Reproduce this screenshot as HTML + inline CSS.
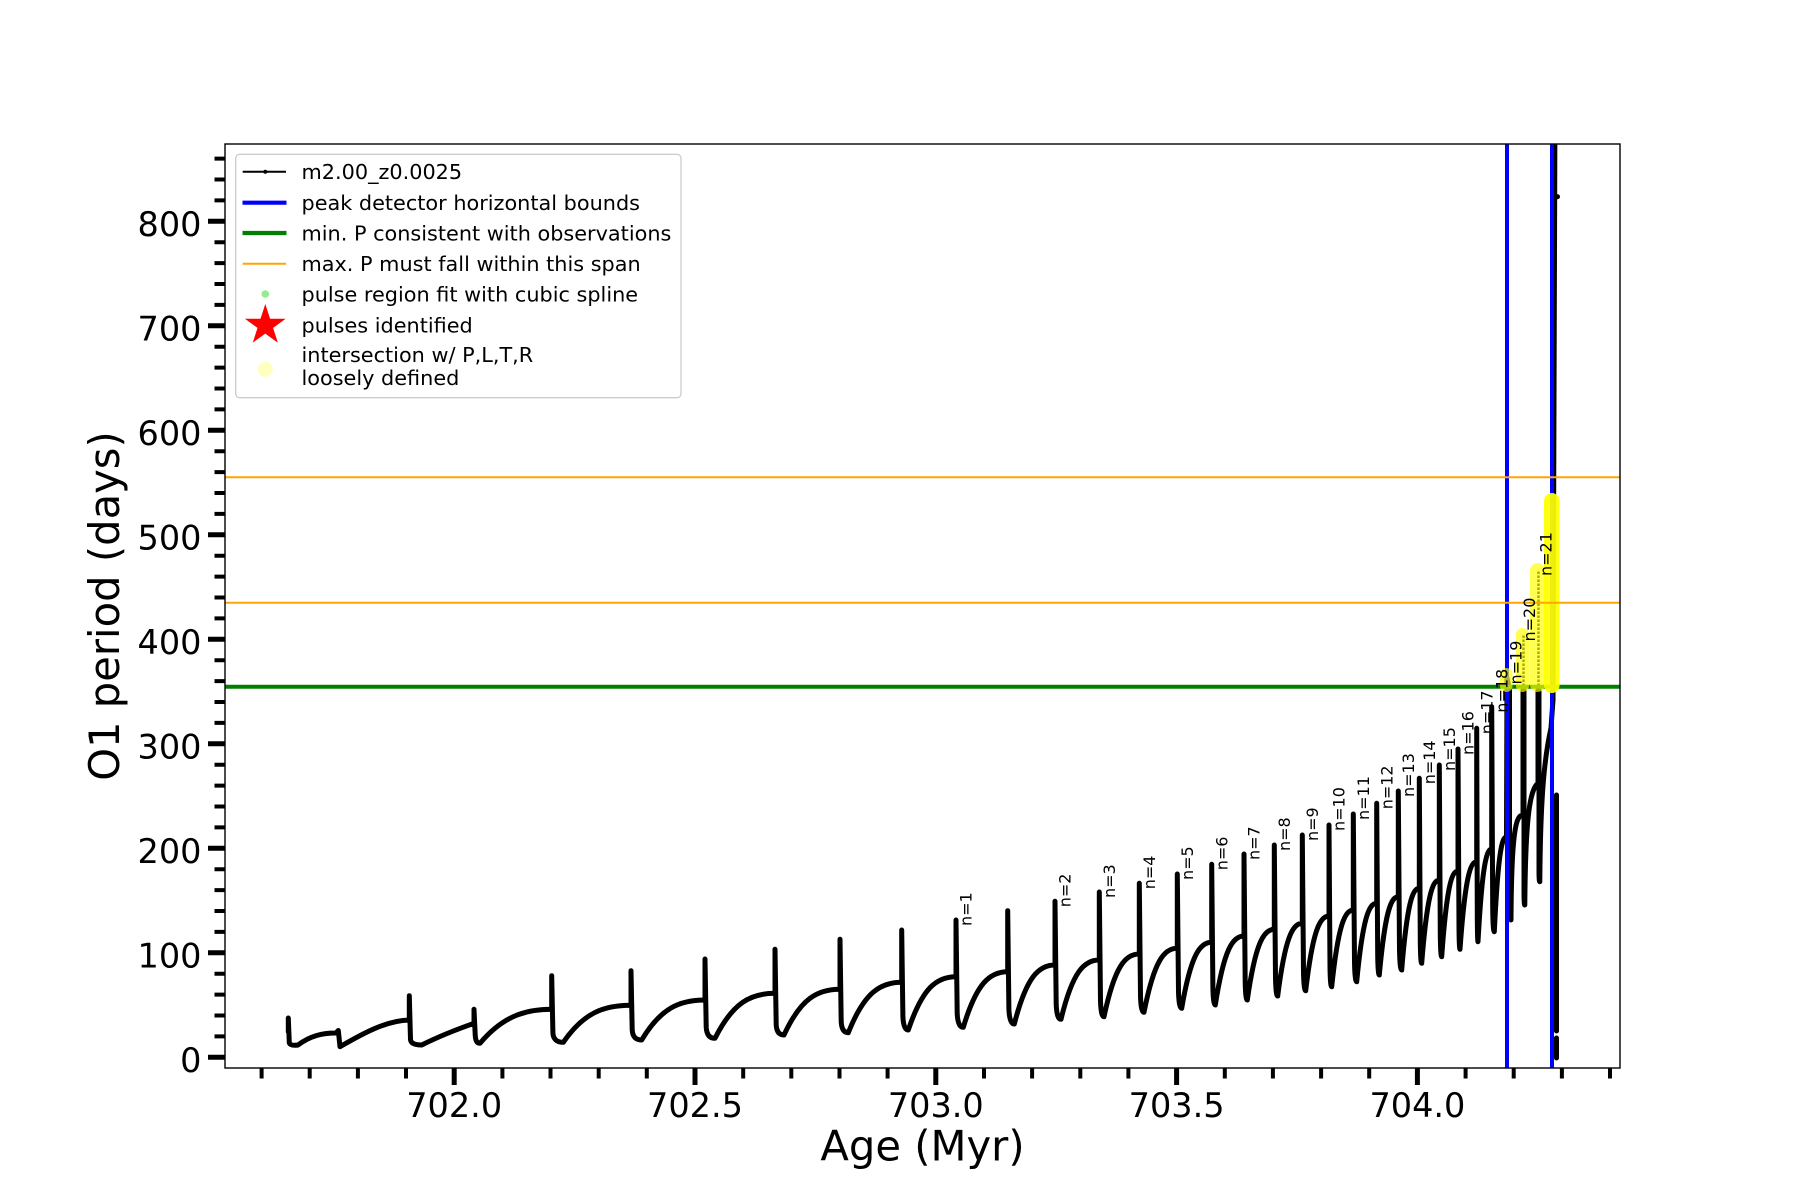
<!DOCTYPE html>
<html>
<head>
<meta charset="utf-8">
<style>
html,body{margin:0;padding:0;background:#fff;}
svg{display:block;}
text{font-family:"DejaVu Sans","Liberation Sans",sans-serif;}
</style>
</head>
<body>
<svg width="1800" height="1200" viewBox="0 0 1800 1200" xmlns="http://www.w3.org/2000/svg">
<rect x="0" y="0" width="1800" height="1200" fill="#ffffff"/>
<defs>
<clipPath id="ax"><rect x="225" y="144" width="1395" height="924"/></clipPath>
</defs>

<g clip-path="url(#ax)">
<!-- data -->
<path fill="none" stroke="#000" stroke-width="5" stroke-linejoin="round" stroke-linecap="round" d="
M288.3,1031.7 L288.3,1018 L289.3,1043 Q290.3,1046 298,1045 C310,1036 322,1033 336,1033 L338.3,1030.5 L340,1046.7 C362.9,1033.4 386.4,1020.5 409.3,1020
L409.3,995.7 L410.5,1039.5 Q411,1045 421.7,1045 C439,1036.3 456.7,1029.4 474,1023.3
L474,1009.3 L475.2,1034.7 Q475.5,1043.3 480,1043.3 C501.5,1017.8 523,1009.3 551.7,1009.3
L551.7,975.7 L552.9,1033.1 Q553.5,1042.3 563.3,1042.3 C583.6,1012.7 603.9,1005.3 631,1005.3
L631,970.7 L632.2,1030 Q632.8,1040 641.7,1040 C660.7,1008 679.7,1000 705,1000
L705,959 L706.2,1027.1 Q706.8,1038.3 715,1038.3 C733,1002.3 751,993.3 775,993.3
L775,949.3 L776.2,1024.9 Q776.8,1035 784,1035 C800.8,998.4 817.6,989.3 840,989.3
L840,939.3 L841.2,1021.8 Q841.8,1032.7 848.3,1032.7 C864.3,992.4 880.3,982.3 901.7,982.3
L901.7,930 L902.9,1016.8 Q903.5,1030 908.3,1030 C922.6,987.4 936.9,976.7 956,976.7
L956,920 L957.2,1013.4 Q957.8,1027.3 963.3,1027.3 C976.6,982.8 990,971.7 1007.7,971.7
L1007.7,910.7 L1008.9,1009.2 Q1009.5,1024 1014.3,1024 C1026.5,976.8 1038.7,965 1055,965
L1055,901.3 L1056.2,1004.4 Q1056.8,1019.3 1061,1019.3 C1072.5,971.9 1084,960 1099.3,960
L1099.3,892 L1100.5,1001 Q1101,1016.7 1104,1016.7 C1114.6,966.5 1125.2,954 1139.3,954
L1139.3,883.3 L1140.5,996.4 Q1141,1012.3 1144,1012.3 C1154,961.1 1164,948.3 1177.3,948.3
L1177.3,874 L1178.5,991.8 Q1179,1008.3 1181.7,1008.3 C1190.7,955.5 1199.7,942.3 1211.7,942.3
L1211.7,864.3 L1212.9,987.8 Q1213.3,1005 1215.3,1005 C1223.9,949.8 1232.5,936 1244,936
L1244,854 L1245.2,982.4 Q1245.6,1000 1247.3,1000 C1255.4,943.4 1263.5,929.3 1274.3,929.3
L1274.3,845 L1275.5,977.9 Q1275.9,996 1277.7,996 C1285.1,937.8 1292.5,923.3 1302.3,923.3
L1302.3,835 L1303.5,972.1 Q1303.9,990.7 1305.7,990.7 C1312.7,930.9 1319.7,916 1329,916
L1329,825 L1330,967.4 Q1330.3,986.7 1331.7,986.7 C1338.2,925.3 1344.7,910 1353.3,910
L1353.3,814 L1354.5,962 Q1354.9,981.7 1356.7,981.7 C1362.7,919 1368.7,903.3 1376.7,903.3
L1376.7,803.3 L1377.7,955.4 Q1378,975 1379.3,975 C1385,912.4 1390.7,896.7 1398.3,896.7
L1398.3,791 L1399.5,949.7 Q1399.9,970 1401.7,970 C1407,904.6 1412.3,888.3 1419.3,888.3
L1419.3,778.3 L1420.3,942.3 Q1420.6,963.3 1421.7,963.3 C1427,896.7 1432.3,880 1439.3,880
L1439.3,765 L1440.3,935.2 Q1440.6,956.7 1441.7,956.7 C1446.6,888.1 1451.5,871 1458,871
L1458,749 L1459,927.4 Q1459.2,949.3 1460,949.3 C1465,879.2 1470,861.7 1476.7,861.7
L1476.7,728.3 L1477.3,918.5 Q1477.5,941.7 1478,941.7 C1482.1,867.5 1486.2,849 1491.7,849
L1491.7,706.7 L1492.7,907.9 Q1493,931.7 1494.3,931.7 C1498,855.7 1501.6,836.7 1506.5,836.7
L1507,678 L1509.5,690 L1509.5,905 Q1509.5,920 1511,920 C1511.5,830 1516,815 1523,815
L1523,690 M1524,690 L1524,890 Q1524,905 1524.8,905 C1525.5,815 1530,790 1538,783
L1538,690 M1539,690 L1539,870 Q1539,881.7 1539.8,881.7 C1540.5,790 1545,755 1551,728
L1553,700 L1555,100
M1556.5,795 L1556.5,1031 M1556.5,1038 L1556.5,1058"/>
<path fill="none" stroke="#000" stroke-width="2.5" stroke-dasharray="2.5 1.5" d="M1523.5,690 L1523.5,635 M1538.5,690 L1538.5,570"/>
<circle cx="1557.5" cy="196.7" r="2.5" fill="#000"/>

<!-- blue vertical bounds -->
<line x1="1507" y1="140" x2="1507" y2="1072" stroke="#0000ff" stroke-width="4"/>
<line x1="1552" y1="140" x2="1552" y2="1072" stroke="#0000ff" stroke-width="4"/>

<!-- green min P -->
<line x1="220" y1="686.7" x2="1625" y2="686.7" stroke="#008000" stroke-width="4"/>

<!-- yellow intersection markers -->
<rect x="1500" y="668" width="12.5" height="24" rx="6" fill="#ffff00" fill-opacity="0.68"/>
<rect x="1516" y="628" width="13" height="64" rx="6.5" fill="#ffff00" fill-opacity="0.68"/>
<rect x="1530" y="563" width="15" height="129" rx="7.5" fill="#ffff00" fill-opacity="0.68"/>
<rect x="1544" y="493" width="15.5" height="200" rx="7.7" fill="#ffff00" fill-opacity="0.93"/>

<!-- white marker near bottom -->
<line x1="1554" y1="1034.5" x2="1559" y2="1034.5" stroke="#ffffff" stroke-width="2"/>

<!-- orange span -->
<line x1="220" y1="477.3" x2="1625" y2="477.3" stroke="#ffa500" stroke-width="2"/>
<line x1="220" y1="602.7" x2="1625" y2="602.7" stroke="#ffa500" stroke-width="2"/>
</g>

<!-- n labels -->
<g font-size="16" fill="#000">
<text transform="translate(971.7,926) rotate(-90)">n=1</text>
<text transform="translate(1070.7,907.3) rotate(-90)">n=2</text>
<text transform="translate(1115,898) rotate(-90)">n=3</text>
<text transform="translate(1155,889.3) rotate(-90)">n=4</text>
<text transform="translate(1193,880) rotate(-90)">n=5</text>
<text transform="translate(1227.4,870.3) rotate(-90)">n=6</text>
<text transform="translate(1259.7,860) rotate(-90)">n=7</text>
<text transform="translate(1290,851) rotate(-90)">n=8</text>
<text transform="translate(1318,841) rotate(-90)">n=9</text>
<text transform="translate(1344.7,831) rotate(-90)">n=10</text>
<text transform="translate(1369,820) rotate(-90)">n=11</text>
<text transform="translate(1392.4,809.3) rotate(-90)">n=12</text>
<text transform="translate(1414,797) rotate(-90)">n=13</text>
<text transform="translate(1435,784.3) rotate(-90)">n=14</text>
<text transform="translate(1455,771) rotate(-90)">n=15</text>
<text transform="translate(1473.7,755) rotate(-90)">n=16</text>
<text transform="translate(1492.4,734.3) rotate(-90)">n=17</text>
<text transform="translate(1507.4,712.7) rotate(-90)">n=18</text>
<text transform="translate(1521.7,684.5) rotate(-90)">n=19</text>
<text transform="translate(1535,641.5) rotate(-90)">n=20</text>
<text transform="translate(1551.7,576) rotate(-90)">n=21</text>
</g>

<!-- spines -->
<rect x="225" y="144" width="1395" height="924" fill="none" stroke="#000" stroke-width="1.4"/>

<!-- y ticks -->
<path stroke="#000" stroke-width="5" fill="none" d="M208,1057.3H225M208,952.8H225M208,848.3H225M208,743.8H225M208,639.3H225M208,534.8H225M208,430.3H225M208,325.8H225M208,221.3H225"/>
<path stroke="#000" stroke-width="4" fill="none" d="M214.5,1036.4H225M214.5,1015.5H225M214.5,994.6H225M214.5,973.7H225M214.5,931.9H225M214.5,911H225M214.5,890.1H225M214.5,869.2H225M214.5,827.4H225M214.5,806.5H225M214.5,785.6H225M214.5,764.7H225M214.5,722.9H225M214.5,702H225M214.5,681.1H225M214.5,660.2H225M214.5,618.4H225M214.5,597.5H225M214.5,576.6H225M214.5,555.7H225M214.5,513.9H225M214.5,493H225M214.5,472.1H225M214.5,451.2H225M214.5,409.4H225M214.5,388.5H225M214.5,367.6H225M214.5,346.7H225M214.5,304.9H225M214.5,284H225M214.5,263.1H225M214.5,242.2H225M214.5,200.4H225M214.5,179.5H225M214.5,158.6H225"/>

<!-- x ticks -->
<path stroke="#000" stroke-width="5" fill="none" d="M454.2,1068V1085M695,1068V1085M935.8,1068V1085M1176.6,1068V1085M1417.4,1068V1085"/>
<path stroke="#000" stroke-width="4" fill="none" d="M261.6,1068V1078.5M309.7,1068V1078.5M357.9,1068V1078.5M406,1068V1078.5M502.4,1068V1078.5M550.5,1068V1078.5M598.7,1068V1078.5M646.8,1068V1078.5M743.2,1068V1078.5M791.3,1068V1078.5M839.5,1068V1078.5M887.6,1068V1078.5M984,1068V1078.5M1032.1,1068V1078.5M1080.3,1068V1078.5M1128.4,1068V1078.5M1224.8,1068V1078.5M1272.9,1068V1078.5M1321.1,1068V1078.5M1369.2,1068V1078.5M1465.6,1068V1078.5M1513.7,1068V1078.5M1561.9,1068V1078.5M1610,1068V1078.5"/>

<!-- y tick labels -->
<g font-size="33.5" fill="#000" text-anchor="end">
<text x="201.5" y="1071.8">0</text>
<text x="201.5" y="967.3">100</text>
<text x="201.5" y="862.8">200</text>
<text x="201.5" y="758.3">300</text>
<text x="201.5" y="653.8">400</text>
<text x="201.5" y="549.3">500</text>
<text x="201.5" y="444.8">600</text>
<text x="201.5" y="340.3">700</text>
<text x="201.5" y="235.8">800</text>
</g>

<!-- x tick labels -->
<g font-size="33.5" fill="#000" text-anchor="middle">
<text x="454.2" y="1117">702.0</text>
<text x="695" y="1117">702.5</text>
<text x="935.8" y="1117">703.0</text>
<text x="1176.6" y="1117">703.5</text>
<text x="1417.4" y="1117">704.0</text>
</g>

<!-- axis labels -->
<text x="922.5" y="1160.7" font-size="41.7" text-anchor="middle" fill="#000">Age (Myr)</text>
<text transform="translate(119,606) rotate(-90)" font-size="41.7" text-anchor="middle" fill="#000">O1 period (days)</text>

<!-- legend -->
<rect x="235.7" y="154.3" width="445.3" height="243.4" rx="4" fill="#ffffff" fill-opacity="0.8" stroke="#cccccc" stroke-width="1.3"/>
<line x1="242.7" y1="171.7" x2="286" y2="171.7" stroke="#000" stroke-width="2"/>
<circle cx="265.3" cy="171.7" r="2" fill="#000"/>
<line x1="242.5" y1="202.7" x2="286.5" y2="202.7" stroke="#0000ff" stroke-width="4.2"/>
<line x1="242.5" y1="233" x2="286.5" y2="233" stroke="#008000" stroke-width="4.2"/>
<line x1="242.7" y1="263.7" x2="286" y2="263.7" stroke="#ffa500" stroke-width="2"/>
<circle cx="265.3" cy="294" r="3.8" fill="#90ee90"/>
<polygon fill="#ff0000" points="265.3,304 270.1,318.8 285.65,318.8 273.07,327.92 277.88,342.71 265.3,333.57 252.72,342.71 257.53,327.92 244.95,318.8 260.5,318.8"/>
<circle cx="265.3" cy="369.3" r="7.5" fill="#ffffc0"/>
<g font-size="20.8" fill="#000">
<text x="301.5" y="179.2">m2.00_z0.0025</text>
<text x="301.5" y="210.2">peak detector horizontal bounds</text>
<text x="301.5" y="240.5">min. P consistent with observations</text>
<text x="301.5" y="271.2">max. P must fall within this span</text>
<text x="301.5" y="301.5">pulse region fit with cubic spline</text>
<text x="301.5" y="332.5">pulses identified</text>
<text x="301.5" y="361.8">intersection w/ P,L,T,R</text>
<text x="301.5" y="384.8">loosely defined</text>
</g>
</svg>
</body>
</html>
